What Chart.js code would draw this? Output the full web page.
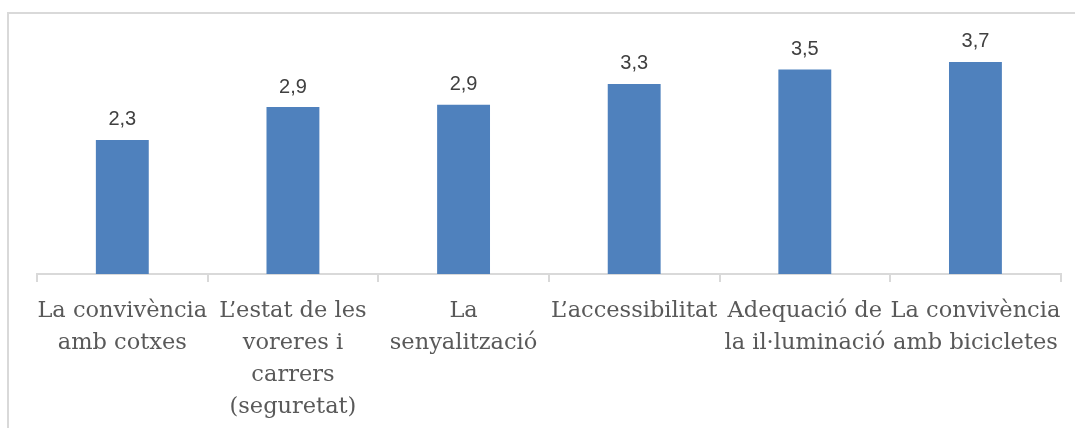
<!DOCTYPE html>
<html>
<head>
<meta charset="utf-8">
<script src="https://cdn.jsdelivr.net/npm/chart.js@4.4.1/dist/chart.umd.min.js"></script>
<style>
  html, body { margin: 0; padding: 0; background: #fff; overflow: hidden; }
  #wrap { position: relative; width: 1075px; height: 428px; overflow: hidden; }
  #frame { position: absolute; left: 7px; top: 12px; width: 1100px; height: 500px;
           border-left: 2px solid #d9d9d9; border-top: 2px solid #d9d9d9; }
  #chart { position: absolute; left: 0; top: 0; }
</style>
</head>
<body>
<div id="wrap">
  <div id="frame"></div>
  <canvas id="chart" width="1075" height="428"></canvas>
</div>
<script>
const categories = [
  ['La convivència', 'amb cotxes'],
  ['L’estat de les', 'voreres i', 'carrers', '(seguretat)'],
  ['La', 'senyalització'],
  ['L’accessibilitat'],
  ['Adequació de', 'la il·luminació'],
  ['La convivència', 'amb bicicletes']
];
const values = [2.32, 2.89, 2.93, 3.29, 3.54, 3.67];

const valueLabels = {
  id: 'valueLabels',
  afterDatasetsDraw(chart) {
    const ctx = chart.ctx;
    const meta = chart.getDatasetMeta(0);
    ctx.save();
    ctx.font = '20px "Liberation Sans", Arial, sans-serif';
    ctx.fillStyle = '#404040';
    ctx.textAlign = 'center';
    ctx.textBaseline = 'alphabetic';
    meta.data.forEach((bar, i) => {
      const txt = values[i].toFixed(1).replace('.', ',');
      ctx.fillText(txt, bar.x, bar.y - 14.5);
    });
    ctx.restore();
  }
};

new Chart(document.getElementById('chart').getContext('2d'), {
  type: 'bar',
  data: {
    labels: categories,
    datasets: [{
      data: values,
      backgroundColor: '#4f81bd',
      borderWidth: 0,
      categoryPercentage: 1,
      barPercentage: 0.31
    }]
  },
  options: {
    responsive: false,
    devicePixelRatio: 1,
    animation: false,
    layout: { padding: { left: 37, right: 14, top: 14, bottom: 0 } },
    plugins: { legend: { display: false }, tooltip: { enabled: false } },
    scales: {
      y: { display: false, min: 0, max: 4.5 },
      x: {
        afterFit(axis) { axis.height = 154; },
        grid: { drawOnChartArea: false, drawTicks: true, tickLength: 8, color: '#d9d9d9', lineWidth: 2 },
        border: { display: true, color: '#d9d9d9', width: 2 },
        ticks: {
          autoSkip: false, maxRotation: 0, minRotation: 0, padding: 13.5,
          color: '#595959',
          font: { family: '"DejaVu Serif", serif', size: 22.5, lineHeight: 1.42 }
        }
      }
    }
  },
  plugins: [valueLabels]
});
</script>
</body>
</html>
